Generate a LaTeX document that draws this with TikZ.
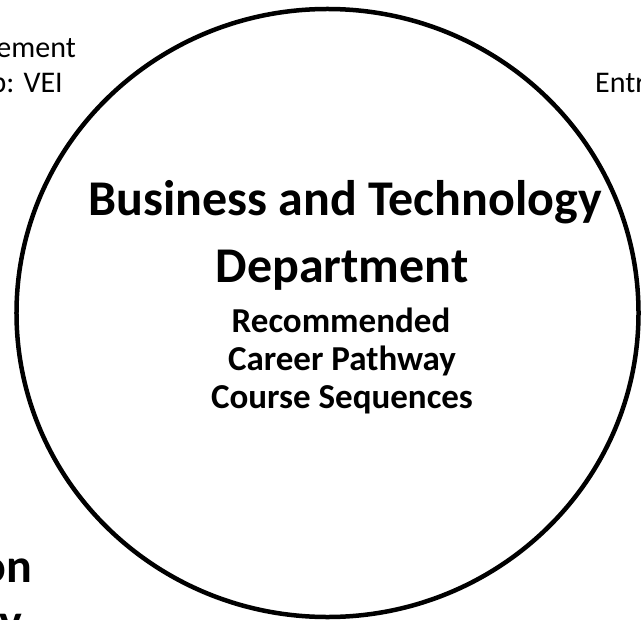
\documentclass[tikz,border=0pt]{standalone}
\usepackage{fontspec}
\setmainfont{Carlito}
\begin{document}
\begin{tikzpicture}[x=1bp,y=-1bp,
  title/.style={inner sep=0pt,anchor=base,font=\fontsize{50bp}{60bp}\selectfont\bfseries},
  sub/.style={inner sep=0pt,anchor=base,font=\fontsize{35bp}{40bp}\selectfont\bfseries},
  side/.style={inner sep=0pt,font=\fontsize{30bp}{35bp}\selectfont},
  sidebold/.style={inner sep=0pt,font=\fontsize{48bp}{56bp}\selectfont\bfseries}]
\clip (0,0) rectangle (641,620);
\useasboundingbox (0,0) rectangle (641,620);
\fill[white] (0,0) rectangle (641,620);
\coordinate (c) at (327.5,313);
\draw[line width=4.5bp] (c) ellipse [x radius=311bp, y radius=304bp];
\node[title] (t1) at (345,215) {Business and Technology};
\node[title] (t2) at (342,282) {Department};
\node[sub] (s1) at (341,332) {Recommended};
\node[sub] (s2) at (342,370) {Career Pathway};
\node[sub] (s3) at (342,408) {Course Sequences};
\node[side,anchor=base east] (l1) at (76,58) {ement};
\node[side,anchor=base east] (l2) at (63,93) {p: VEI};
\node[side,anchor=base west] (r1) at (595,93) {Entr};
\node[sidebold,anchor=base east] (b1) at (32,582) {on};
\node[sidebold,anchor=base east] (b2) at (22,637) {y};
\end{tikzpicture}
\end{document}
